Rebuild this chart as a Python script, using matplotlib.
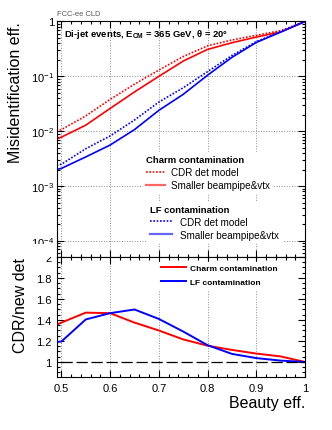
import matplotlib
matplotlib.use('Agg')
import numpy as np
import matplotlib.pyplot as plt
from matplotlib.ticker import MultipleLocator, LogLocator, FuncFormatter, NullFormatter
from matplotlib.lines import Line2D
from matplotlib.patches import Rectangle

plt.rcParams['font.family'] = ['Liberation Sans', 'DejaVu Sans']
plt.rcParams['mathtext.fontset'] = 'custom'
plt.rcParams['mathtext.rm'] = 'Liberation Sans'
plt.rcParams['mathtext.bf'] = 'Liberation Sans:bold'
plt.rcParams['mathtext.it'] = 'Liberation Sans:italic'

# ---- data ----
beauty_eff = [0.49, 0.50, 0.55, 0.60, 0.65, 0.70, 0.75, 0.80, 0.85, 0.90, 0.95, 1.00]
charm_cdr = [0.0098, 0.0107, 0.019, 0.038, 0.072, 0.13, 0.23, 0.36, 0.46, 0.56, 0.68, 1.0]
charm_new = [0.0072, 0.0078, 0.0129, 0.026, 0.052, 0.10, 0.19, 0.31, 0.41, 0.52, 0.645, 1.0]
lf_cdr = [0.0024, 0.0025, 0.0048, 0.0082, 0.016, 0.034, 0.062, 0.122, 0.24, 0.43, 0.65, 1.0]
lf_new = [0.0020, 0.0021, 0.0034, 0.0056, 0.0107, 0.024, 0.047, 0.105, 0.222, 0.415, 0.64, 1.0]
ratio_charm = [1.355, 1.375, 1.47, 1.465, 1.375, 1.30, 1.215, 1.155, 1.115, 1.08, 1.053, 1.0]
ratio_lf = [1.19, 1.195, 1.405, 1.465, 1.50, 1.41, 1.29, 1.16, 1.077, 1.037, 1.013, 1.0]
ref_x = [0.5, 1.0]
ref_y = 1.0

x_ticks = [0.5, 0.6, 0.7, 0.8, 0.9, 1.0]
x_ticklabels = ['0.5', '0.6', '0.7', '0.8', '0.9', '1']
r_ticks = [1.0, 1.2, 1.4, 1.6, 1.8, 2.0]
r_ticklabels = ['1', '1.2', '1.4', '1.6', '1.8', '2']

RED = '#ff0000'
BLUE = '#0000ff'
dot = (0, (1, 1))

fig = plt.figure(figsize=(3.32, 4.31), dpi=100)
ax1 = fig.add_axes([0.1717, 0.4014, 0.747, 0.5464])
ax2 = fig.add_axes([0.1717, 0.1230, 0.747, 0.2784])

xmin = 0.491

# ---- top panel ----
ax1.plot(beauty_eff, charm_cdr, color=RED, lw=1.2, ls=dot)
ax1.plot(beauty_eff, charm_new, color=RED, lw=1.2)
ax1.plot(beauty_eff, lf_cdr, color=BLUE, lw=1.2, ls=dot)
ax1.plot(beauty_eff, lf_new, color=BLUE, lw=1.2)
ax1.set_yscale('log')
ax1.set_xlim(xmin, 1.0)
ax1.set_ylim(5.1e-5, 1.0)
ax1.xaxis.set_major_locator(MultipleLocator(0.1))
ax1.xaxis.set_minor_locator(MultipleLocator(0.02))
ax1.xaxis.set_major_formatter(NullFormatter())
ax1.yaxis.set_major_locator(LogLocator(base=10, numticks=10))
ax1.yaxis.set_minor_locator(LogLocator(base=10, subs=np.arange(2, 10), numticks=20))
ax1.yaxis.set_minor_formatter(NullFormatter())

def logfmt(v, pos):
    e = int(round(np.log10(v)))
    if e == 0:
        return '1'
    return r'$\mathregular{10^{%d}}$' % e

ax1.yaxis.set_major_formatter(FuncFormatter(logfmt))
ax1.grid(True, which='major', color='0.55', ls=':', lw=0.7)
ax1.set_ylabel('Misidentification eff.', fontsize=11.5, loc='top', labelpad=6)

ax1.text(0.03, 0.975, r'Di-jet events, E$_{\mathbf{CM}}$ = 365 GeV, θ = 20°',
         transform=ax1.transAxes, fontsize=6.8, fontweight='bold', va='top', ha='left')
fig.text(0.1717, 0.962, 'FCC-ee CLD', fontsize=5.4, color='0.35', ha='left', va='baseline')

h_charm = [Line2D([], [], color=RED, lw=1.2, ls=dot),
           Line2D([], [], color=RED, lw=1.6, alpha=0.6)]
h_lf = [Line2D([], [], color=BLUE, lw=1.2, ls=dot),
        Line2D([], [], color=BLUE, lw=1.6, alpha=0.6)]
labels = ['CDR det model', 'Smaller beampipe&vtx']

leg1 = ax1.legend(h_charm, labels, title='Charm contamination', loc='upper left',
                  bbox_to_anchor=(0.345, 0.445), fontsize=7.1,
                  title_fontproperties={'weight': 'bold', 'size': 6.8},
                  frameon=True, facecolor='white', edgecolor='white', framealpha=1, fancybox=False,
                  handlelength=2.0, handletextpad=0.6, labelspacing=0.3, borderpad=0.3, borderaxespad=0,
                  alignment='left')
ax1.add_artist(leg1)
leg2 = ax1.legend(h_lf, labels, title='LF contamination', loc='upper left',
                  bbox_to_anchor=(0.362, 0.235), fontsize=7.1,
                  title_fontproperties={'weight': 'bold', 'size': 6.8},
                  frameon=True, facecolor='white', edgecolor='white', framealpha=1, fancybox=False,
                  handlelength=2.3, handletextpad=0.8, labelspacing=0.3, borderpad=0.3, borderaxespad=0,
                  alignment='left')

# ---- ratio panel ----
ax2.plot(beauty_eff, ratio_charm, color=RED, lw=1.4, label='Charm contamination')
ax2.plot(beauty_eff, ratio_lf, color=BLUE, lw=1.4, label='LF contamination')
ax2.hlines(ref_y, ref_x[0], ref_x[1], colors='black', lw=0.9, linestyles=(0, (9, 3)))
ax2.set_xlim(xmin, 1.0)
ax2.set_ylim(0.857, 2.0)
ax2.set_xticks(x_ticks)
ax2.set_xticklabels(x_ticklabels)
ax2.xaxis.set_minor_locator(MultipleLocator(0.02))
ax2.set_yticks(r_ticks)
ax2.set_yticklabels(r_ticklabels)
ax2.yaxis.set_minor_locator(MultipleLocator(0.05))
ax2.grid(True, which='major', axis='x', color='0.55', ls=':', lw=0.7)
ax2.set_ylabel('CDR/new det', fontsize=11.5, loc='top', labelpad=6)
ax2.set_xlabel('Beauty eff.', fontsize=11.5, loc='right', labelpad=2)
ax2.legend(loc='upper left', bbox_to_anchor=(0.41, 0.96),
           prop={'weight': 'bold', 'size': 6.0},
           frameon=True, facecolor='white', edgecolor='white', framealpha=1, fancybox=False,
           handlelength=3.0, handletextpad=0.5, labelspacing=0.75, borderpad=0.3, borderaxespad=0)

for ax in (ax1, ax2):
    ax.tick_params(which='both', direction='in', top=True, right=True, width=0.8, labelsize=8)
    ax.tick_params(which='major', length=5)
    ax.tick_params(which='minor', length=2.5)
    for s in ax.spines.values():
        s.set_linewidth(0.8)
ax1.tick_params(axis='y', which='major', pad=2)
ax2.tick_params(axis='y', which='major', pad=4)
ax2.tick_params(axis='x', which='major', pad=4)

# top pad covers upper half of ratio label "2"
fig.add_artist(Rectangle((0.0, 0.4014), 0.165, 0.03, transform=fig.transFigure,
                         facecolor='white', edgecolor='none', zorder=5))

fig.savefig('out.png', dpi=100)
